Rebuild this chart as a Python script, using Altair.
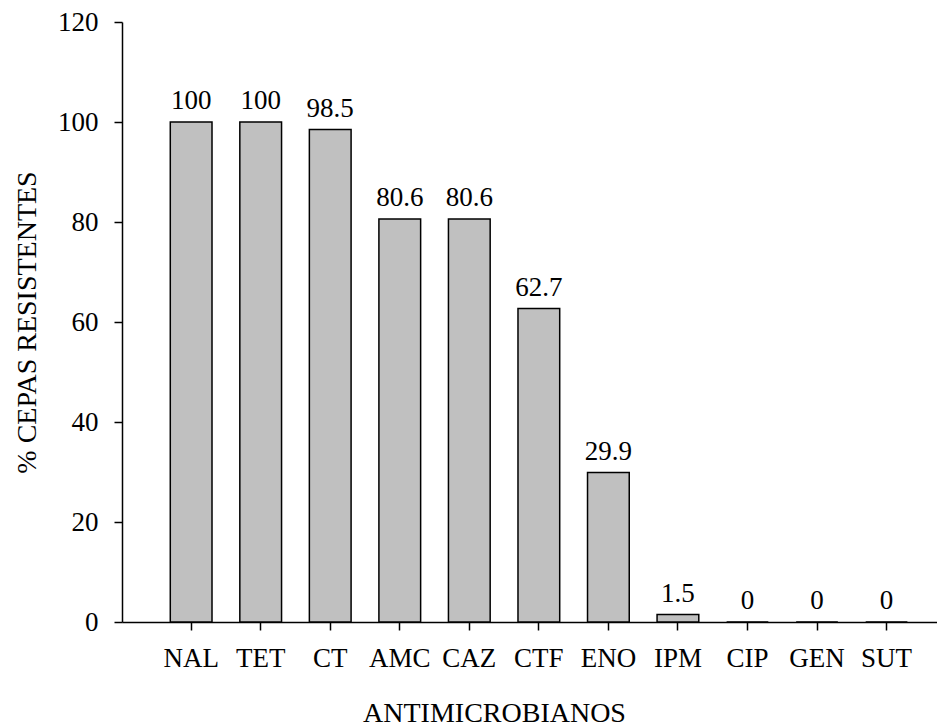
import altair as alt
import pandas as pd

categories = ["NAL", "TET", "CT", "AMC", "CAZ", "CTF", "ENO", "IPM", "CIP", "GEN", "SUT"]
values = [100, 100, 98.5, 80.6, 80.6, 62.7, 29.9, 1.5, 0, 0, 0]
value_labels = ["100", "100", "98.5", "80.6", "80.6", "62.7", "29.9", "1.5", "0", "0", "0"]
y_ticks = [0, 20, 40, 60, 80, 100, 120]

df = pd.DataFrame({"cat": categories, "val": values, "lab": value_labels})

FONT = "Times New Roman, Liberation Serif, serif"
FS = 27
TFS = 28

xenc = alt.X(
    "cat:N",
    sort=categories,
    title="ANTIMICROBIANOS",
    scale=alt.Scale(paddingInner=0.4, paddingOuter=0.56, align=0.62),
    axis=alt.Axis(
        labelAngle=0,
        labelFont=FONT,
        labelFontSize=FS,
        labelColor="black",
        labelPadding=15,
        titleFont=FONT,
        titleFontSize=TFS,
        titleFontWeight="normal",
        titleColor="black",
        titlePadding=28,
        titleX=372,
        titleAlign="center",
        domainColor="black",
        domainWidth=1.5,
        tickColor="black",
        tickWidth=1.5,
        tickSize=8,
        grid=False,
    ),
)

yenc = alt.Y(
    "val:Q",
    title="% CEPAS RESISTENTES",
    scale=alt.Scale(domain=[0, 120], nice=False),
    axis=alt.Axis(
        values=y_ticks,
        labelFont=FONT,
        labelFontSize=FS,
        labelColor="black",
        labelPadding=16,
        titleFont=FONT,
        titleFontSize=TFS,
        titleFontWeight="normal",
        titleColor="black",
        titlePadding=16,
        domainColor="black",
        domainWidth=1.5,
        tickColor="black",
        tickWidth=1.5,
        tickSize=8,
        grid=False,
    ),
)

bars = alt.Chart(df).mark_bar(
    color="#c0c0c0", stroke="black", strokeWidth=1.5
).encode(x=xenc, y=yenc)

texts = alt.Chart(df).mark_text(
    font=FONT, fontSize=FS, color="black", baseline="bottom", dy=-7
).encode(x=alt.X("cat:N", sort=categories), y=alt.Y("val:Q"), text="lab:N")

chart = (
    alt.layer(bars, texts)
    .properties(
        width=815,
        height=600,
        autosize=alt.AutoSizeParams(type="none"),
        padding={"left": 114, "top": 14, "right": 0, "bottom": 110},
    )
    .configure_view(stroke=None)
)

chart.save("out.html", embed_options={"renderer": "svg", "actions": False})
